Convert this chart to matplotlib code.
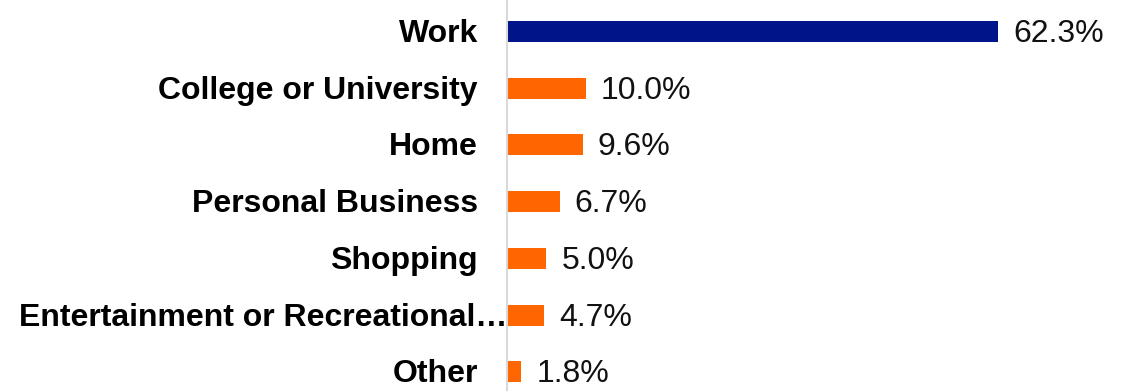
import matplotlib
matplotlib.use("Agg")
import matplotlib.pyplot as plt

# Trip purposes and their shares (percent).
categories = ["Work", "College or University", "Home", "Personal Business",
              "Shopping", "Entertainment or Recreational\u2026", "Other"]
shares = [62.3, 10.0, 9.6, 6.7, 5.0, 4.7, 1.8]
bar_colors = ["#001489", "#FF6600", "#FF6600", "#FF6600",
              "#FF6600", "#FF6600", "#FF6600"]

plt.rcParams['font.family'] = ['Liberation Sans', 'DejaVu Sans']

fig = plt.figure(figsize=(11.29, 3.91), dpi=100)
ax = fig.add_axes([507/1129, 0, 1 - 507/1129, 1])

pos = list(range(len(categories)))
ax.barh(pos, shares, height=0.37, color=bar_colors)

ax.set_xlim(0, 78.9)
ax.set_ylim(6.335, -0.555)

for i, (cat, val) in enumerate(zip(categories, shares)):
    ax.annotate(f"{val:.1f}%", xy=(val, i), xytext=(10.8, -1.8),
                textcoords='offset points', ha='left', va='center',
                fontsize=23, color='#111111')
    # the truncated label runs right up to the axis line
    dx = 0 if cat.endswith("\u2026") else -20.9
    ax.annotate(cat, xy=(0, i), xytext=(dx, -1.8), textcoords='offset points',
                ha='right', va='center', fontsize=23, fontweight='bold',
                color='black', annotation_clip=False)

ax.set_xticks([])
ax.set_yticks([])
for side in ['top', 'right', 'bottom']:
    ax.spines[side].set_visible(False)
ax.spines['left'].set_color('#D9D9D9')
ax.spines['left'].set_linewidth(1.5)

fig.savefig("out.png", dpi=100)
